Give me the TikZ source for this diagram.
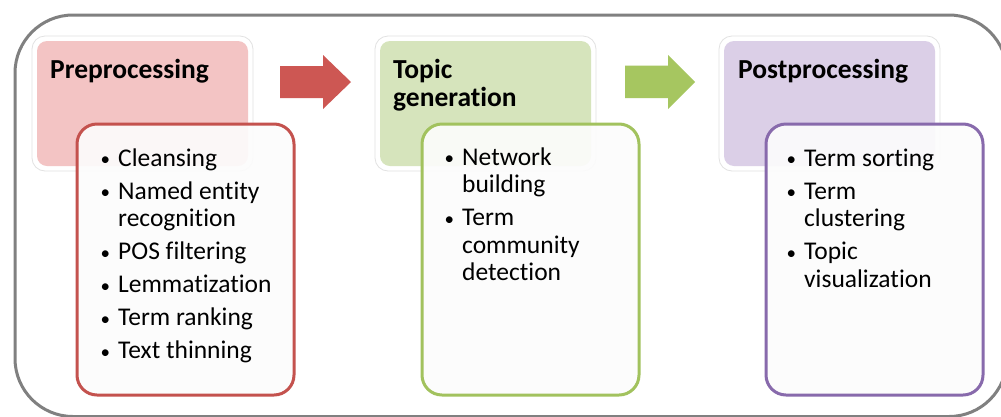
\documentclass[tikz,border=0pt]{standalone}
\usepackage{fontspec}
\setmainfont{Carlito}[Ligatures=NoCommon]

% one bullet line, a continuation line, and the gap between two items
\newcommand\lsDot{\raisebox{0.5pt}{\fontsize{19}{19}\selectfont\textbullet}}
\newcommand\lsItem[1]{\hbox{\makebox[16pt][l]{\hspace{-1.5pt}\lsDot}#1}}
\newcommand\lsCont[1]{\hbox{\hspace{16pt}#1}}
\newcommand\lsGap{\vskip5.5pt}
\newcommand\lsBlock[1]{\vtop{\baselineskip=27.5pt\lineskiplimit=-10pt #1}}

\definecolor{frameGray}{RGB}{128,128,128}
\definecolor{haloGray}{RGB}{226,226,226}
\definecolor{preFill}{RGB}{243,196,196}
\definecolor{preLine}{RGB}{196,82,78}
\definecolor{preArrow}{RGB}{205,87,83}
\definecolor{genFill}{RGB}{214,228,188}
\definecolor{genLine}{RGB}{162,194,94}
\definecolor{genArrow}{RGB}{166,198,96}
\definecolor{postFill}{RGB}{219,207,231}
\definecolor{postLine}{RGB}{136,106,172}
\definecolor{listFill}{RGB}{252,252,252}

\begin{document}
\begin{tikzpicture}[x=1pt,y=-1pt,
  stagebox/.style={rounded corners=10pt, anchor=north west, inner sep=0pt,
    outer sep=0pt, minimum width=211pt, minimum height=125pt},
  halo/.style={draw=haloGray, line width=0.8pt, rounded corners=13pt},
  listbox/.style={rounded corners=20pt, anchor=north west, inner sep=0pt,
    outer sep=0pt, line width=3pt, fill=listFill, fill opacity=0.92,
    minimum width=217pt, minimum height=271pt},
  heading/.style={anchor=base west, inner sep=0pt,
    font=\fontsize{27.5}{28}\selectfont\bfseries},
  listtext/.style={anchor=base west, inner sep=0pt,
    font=\fontsize{25.5}{27.5}\selectfont}]

  \useasboundingbox (0,0) rectangle (1001,416);
  \fill[white] (0,0) rectangle (1001,416);

  % outer frame, running off the right and bottom edges
  \draw[frameGray, line width=3pt, rounded corners=58pt] (15,15) rectangle (1007,416.5);

  % stage boxes
  \node[stagebox, fill=preFill]  (pre)  at (37,41)  {};
  \node[stagebox, fill=genFill]  (gen)  at (380,41) {};
  \node[stagebox, fill=postFill] (post) at (724,41) {};
  \foreach \b in {pre,gen,post}
    \draw[halo] ([shift={(-5,-5)}]\b.north west) rectangle ([shift={(5,5)}]\b.south east);

  \node[heading] (preH)  at (50,78)  {Preprocessing};
  \node[heading] (genH)  at (393,78) {\lsBlock{\baselineskip=28pt\hbox{Topic}\hbox{generation}}};
  \node[heading] (postH) at (738,78) {Postprocessing};

  % arrows between the stages
  \fill[preArrow] (280,66) -- (323,66) -- (323,55) -- (351,82) -- (323,109)
    -- (323,98) -- (280,98) -- cycle;
  \fill[genArrow] (625,65.5) -- (668,65.5) -- (668,55) -- (695,82) -- (668,109)
    -- (668,98) -- (625,98) -- cycle;

  % task lists
  \node[listbox, draw=preLine]  (preL)  at (77,124)  {};
  \node[listbox, draw=genLine]  (genL)  at (422,124) {};
  \node[listbox, draw=postLine] (postL) at (766,124) {};

  \node[listtext] (preT) at (102,166) {\lsBlock{%
    \lsItem{Cleansing}\lsGap
    \lsItem{Named entity}\lsCont{recognition}\lsGap
    \lsItem{POS filtering}\lsGap
    \lsItem{Lemmatization}\lsGap
    \lsItem{Term ranking}\lsGap
    \lsItem{Text thinning}}};

  \node[listtext] (genT) at (446,165) {\lsBlock{%
    \lsItem{Network}\lsCont{building}\lsGap
    \lsItem{Term}\lsCont{community}\lsCont{detection}}};

  \node[listtext] (postT) at (788,166) {\lsBlock{%
    \lsItem{Term sorting}\lsGap
    \lsItem{Term}\lsCont{clustering}\lsGap
    \lsItem{Topic}\lsCont{visualization}}};
\end{tikzpicture}
\end{document}
